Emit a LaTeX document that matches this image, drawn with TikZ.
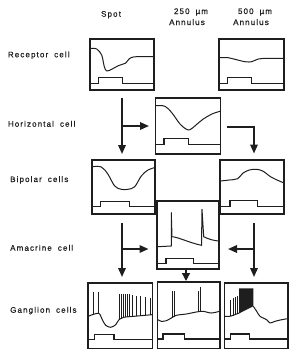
\documentclass[tikz,border=0pt]{standalone}
\usepackage{fontspec}
\setmainfont{Liberation Sans}[LetterSpace=14,WordSpace=1.8,FakeBold=0.5]
\usetikzlibrary{arrows.meta}
\definecolor{ink}{HTML}{1E1E1E}
\tikzset{
  cellbox/.style={draw=ink, line width=1.2pt, inner sep=0pt, outer sep=0pt, anchor=north west},
  trace/.style={draw=ink, line width=1pt, line join=round},
  stim/.style={draw=ink, line width=1.3pt, line join=miter},
  spike/.style={draw=ink, line width=0.65pt},
  arr/.style={draw=ink, line width=1.7pt, -{Triangle[length=9pt,width=7.5pt]}},
  lbl/.style={inner sep=0pt, text=ink, font=\fontsize{8}{9.6}\selectfont},
}
\begin{document}
\begin{tikzpicture}[x=1pt,y=-1pt]
\useasboundingbox (0,0) rectangle (300,354);
% column headers
\node[lbl, anchor=base] (hs) at (111,16.7) {Spot};
\node[lbl, anchor=base] (ha1) at (191,14) {250 µm};
\node[lbl, anchor=base] (ha2) at (187,25) {Annulus};
\node[lbl, anchor=base] (hb1) at (255,14) {500 µm};
\node[lbl, anchor=base] (hb2) at (251,25) {Annulus};
% row labels
\node[lbl, anchor=base west] (lr) at (7.7,57.3) {Receptor cell};
\node[lbl, anchor=base west] (lh) at (7.7,126.7) {Horizontal cell};
\node[lbl, anchor=base west] (lb) at (10,182) {Bipolar cells};
\node[lbl, anchor=base west] (la) at (10,250.7) {Amacrine cell};
\node[lbl, anchor=base west] (lg) at (10,312.7) {Ganglion cells};
% boxes
\node[cellbox, minimum width=64pt, minimum height=51pt] (R1) at (90,39) {};
\node[cellbox, minimum width=65pt, minimum height=51pt] (R3) at (219,39) {};
\node[cellbox, minimum width=65pt, minimum height=56pt] (H2) at (155.5,98) {};
\node[cellbox, minimum width=63pt, minimum height=54pt] (B1) at (92,160) {};
\node[cellbox, minimum width=64pt, minimum height=54pt] (B3) at (220,160) {};
\node[cellbox, minimum width=62pt, minimum height=68pt] (A2) at (157,201) {};
\node[cellbox, minimum width=64.5pt, minimum height=65.5pt] (G1) at (88,283) {};
\node[cellbox, minimum width=62.5pt, minimum height=66.5pt] (G2) at (157.5,282) {};
\node[cellbox, minimum width=63.5pt, minimum height=65.5pt] (G3) at (224.5,283) {};
% receptor traces
\draw[trace] plot[smooth, tension=0.5] coordinates {(90.5,48.3) (96.7,49) (101.7,55) (104.3,66.7) (106.7,71) (111.7,69.3) (118.3,65.7) (125.7,63) (129,59) (133.3,57) (143,56.5) (153.5,56.7)};
\draw[stim] (90,83.7) -- (98.3,83.7) -- (98.3,77.7) -- (122.7,77.7) -- (122.7,83.7) -- (154,83.7);
\draw[trace] plot[smooth, tension=0.6] coordinates {(219.5,57.7) (228.3,57.7) (235,59.3) (245,61.7) (251.7,61.7) (258.3,59) (268.3,58.3) (283.5,58.3)};
\draw[stim] (219,83.3) -- (227.3,83.3) -- (227.3,77.7) -- (251.7,77.7) -- (251.7,83.3) -- (284,83.3);
% horizontal cell
\draw[trace] plot[smooth, tension=0.6] coordinates {(156,105.7) (165,106.3) (172,113) (180,124) (186,129) (190,129.7) (196,125) (203.3,119) (212,114) (220,111.3)};
\draw[stim] (155.5,144.5) -- (164,144.5) -- (164,138.5) -- (188.3,138.5) -- (188.3,144.5) -- (220.5,144.5);
% bipolar cells
\draw[trace] plot[smooth, tension=0.6] coordinates {(92.5,166.7) (101.3,167) (108,174.3) (114.7,186) (121.3,189.3) (128,189.3) (134.7,186.7) (141.3,176) (148,170) (154.5,167.7)};
\draw[stim] (92,206.7) -- (100.7,206.7) -- (100.7,201.3) -- (129.7,201.3) -- (129.7,206.7) -- (155,206.7);
\draw[trace] plot[smooth, tension=0.6] coordinates {(220.5,181) (229.3,180) (237.7,178.7) (242.7,173.3) (249.3,170) (256,169.3) (262.7,171) (271,177) (279.3,181) (283.5,182.7)};
\draw[stim] (220,206.7) -- (230,206.7) -- (230,200.7) -- (257.7,200.7) -- (257.7,206.7) -- (284,206.7);
% amacrine cell
\draw[trace] (157.5,246.7) -- (171.3,246) -- (171.3,212.7) -- (172,236.7) .. controls (178,237) and (190,243) .. (201.5,245.3) -- (202,209.3) -- (203.7,236.7) .. controls (209,239.5) and (214,240.5) .. (218.5,241);
\draw[stim] (157,263.3) -- (166,263.3) -- (166,258.7) -- (193.7,258.7) -- (193.7,263.3) -- (219,263.3);
% ganglion cells
\draw[trace] plot[smooth, tension=0.5] coordinates {(88.5,316.3) (92.3,314.7) (99,313.5) (102.3,319.7) (105.7,325.3) (110.7,327.3) (115.7,324.7) (119,319.7) (124,317.3) (134,316.3) (152,314.7)};
\foreach \sx/\sy/\st in {93.3/314.5/292, 98/313.5/292, 119/319.7/294, 121/318.8/294, 123/317.8/294, 125/317/294, 127/316.8/294, 129.5/316.6/294, 132/316.4/295, 136.5/316/296, 140.5/315.7/296, 145/315.3/297, 150/314.9/298}
  \draw[spike] (\sx,\sy) -- (\sx,\st);
\draw[stim] (88,339.5) -- (94.7,339.5) -- (94.7,334.5) -- (114,334.5) -- (114,339.5) -- (152.5,339.5);
\draw[trace] plot[smooth, tension=0.5] coordinates {(158,319.7) (161.3,321.3) (166.3,320.7) (171.3,318) (176.3,315.3) (186.3,314) (196.3,312) (203,311.3) (211.3,313) (219.5,311.3)};
\foreach \sx/\sy/\st in {172.3/317.5/291, 174/316.6/291, 198/311.8/291, 200.7/311.5/286.5}
  \draw[spike] (\sx,\sy) -- (\sx,\st);
\draw[stim] (157.5,339) -- (163,339) -- (163,334) -- (184.7,334) -- (184.7,339) -- (220,339);
\draw[trace] plot[smooth, tension=0.5] coordinates {(225,316.3) (230,316.3) (234,315) (239,313)};
\foreach \sx/\sy/\st in {230.7/316.3/300, 233.3/315.5/298, 235.7/314.5/297, 237.3/313.8/296}
  \draw[spike] (\sx,\sy) -- (\sx,\st);
\fill[ink] (239,313.5) -- (239,288.3) -- (253.3,288.3) -- (253.3,306.3) -- cycle;
\draw[trace] plot[smooth, tension=0.5] coordinates {(253.3,306.3) (256.7,311.3) (260,316.3) (266.7,319.7) (270,323) (275,321.3) (281.7,319.7) (287.5,318.7)};
\draw[stim] (224.5,339) -- (230.7,339) -- (230.7,334) -- (249.3,334) -- (249.3,339) -- (288,339);
% connectors
\coordinate (L1) at (122,98);
\coordinate (R1c) at (227,127);
\coordinate (C3) at (254,127);
\coordinate (L2) at (122,223);
\coordinate (LB) at (122,249);
\coordinate (R2) at (254,223);
\coordinate (RB) at (254,249);
\coordinate (M) at (186,269);
\draw[arr, shorten >=6pt] (L1) -- (L1 |- B1.north);
\draw[arr, shorten >=6.5pt] (L1 |- H2.west) -- (H2.west);
\draw[arr, shorten >=6.5pt] (R1c) -- (C3) -- (C3 |- B3.north);
\draw[arr, shorten >=6pt] (L2) -- (L2 |- G1.north);
\draw[arr, shorten >=8.5pt] (LB) -- (LB -| A2.west);
\draw[arr, shorten >=6pt] (R2) -- (R2 |- G3.north);
\draw[arr, shorten >=9pt] (RB) -- (RB -| A2.east);
\draw[draw=ink, line width=1.4pt, -{Triangle[length=8pt,width=8pt]}, shorten >=1pt] (M) -- (M |- G2.north);
\end{tikzpicture}
\end{document}
